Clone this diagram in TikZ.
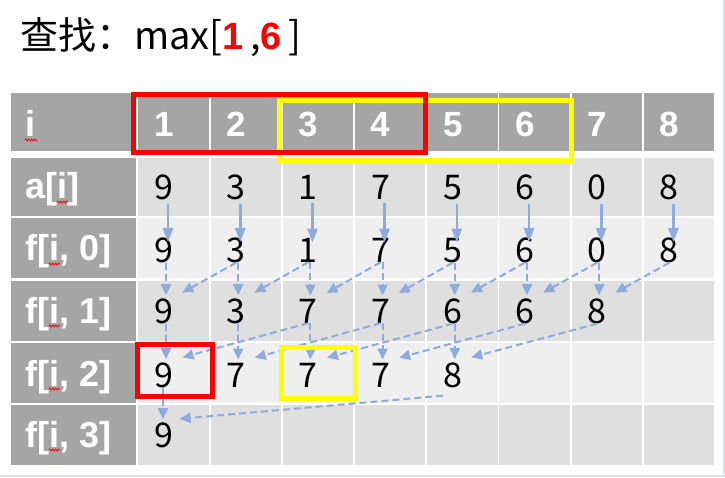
\documentclass[tikz,border=0pt]{standalone}
\usepackage{fontspec}
\setmainfont{Liberation Sans}
\newfontfamily\cjkfont{Noto Sans CJK SC}
\usepackage{xcolor}
\usepackage{tikz}
\usetikzlibrary{arrows.meta}
\usetikzlibrary{decorations.pathmorphing}
\usetikzlibrary{positioning}

\definecolor{hdr}{HTML}{A5A5A5}
\definecolor{rowA}{HTML}{DFDFDF}
\definecolor{rowB}{HTML}{EFEFEF}
\definecolor{arr}{HTML}{8FAADC}
\definecolor{frm}{HTML}{DEE3E8}
\definecolor{yel}{HTML}{FFFF00}

\begin{document}
\begin{tikzpicture}[x=1pt,y=-1pt]
	\tikzstyle{num}=[inner sep=0pt, anchor=base, font=\cjkfont\fontsize{34}{34}\selectfont]
	\tikzstyle{lbl}=[inner sep=0pt, anchor=base west, text=white, font=\bfseries\fontsize{36}{36}\selectfont]
	\tikzstyle{hd}=[inner sep=0pt, anchor=base, text=white, font=\bfseries\fontsize{35}{35}\selectfont]
	\tikzstyle{solidarr}=[-{Triangle[length=14pt,width=10pt]}, arr, line width=2.6pt, shorten <=3pt, shorten >=-5pt]
	\tikzstyle{dasharr}=[-{Triangle[length=11pt,width=10pt]}, arr, line width=2pt, dash pattern=on 7pt off 4pt, shorten >=3pt]
	\tikzstyle{hl}=[line width=5pt]
	\tikzstyle{squig}=[red, line width=.8pt, decorate, decoration={zigzag, segment length=3pt, amplitude=1pt}]

	\useasboundingbox (0,0) rectangle (725,478);
	\draw[frm, line width=2pt] (724,0) -- (724,476) -- (0,476);

	% title
	\node[anchor=base west, inner sep=0pt, font=\cjkfont\fontsize{38}{38}\selectfont] (title) at (20,50)
		{查找：max[\textcolor{red}{\normalfont\bfseries 1}\,,\textcolor{red}{\normalfont\bfseries 6}\,]};

	% cells
	\foreach \ytop/\ybot/\rowcol in {93/151/hdr, 157.7/215.7/rowA, 218.3/278/rowB, 280.7/340.7/rowA, 342.7/402.7/rowB, 405/465/rowA} {
		\fill[hdr] (11,\ytop) rectangle (136,\ybot);
		\foreach \k in {0,...,7}
			\fill[\rowcol] ({138.3+72.2*\k},\ytop) rectangle ({208.7+72.2*\k},\ybot);
	}

	% row labels
	\node[lbl] (li) at (25,137) {i};
	\node[lbl] (la) at (25,199) {a[i]};
	\node[lbl] (l0) at (25,261) {f[i, 0]};
	\node[lbl] (l1) at (25,323) {f[i, 1]};
	\node[lbl] (l2) at (25,386) {f[i, 2]};
	\node[lbl] (l3) at (25,447) {f[i, 3]};
	\draw[squig] (25,140) -- (37,140);
	\draw[squig] (57,202) -- (68,202);
	\draw[squig] (49,264) -- (60,264);
	\draw[squig] (49,326) -- (60,326);
	\draw[squig] (49,389) -- (60,389);
	\draw[squig] (49,450) -- (60,450);

	% header and values
	\foreach \i in {1,...,8}
		\node[hd] (h\i) at ({164+72.2*(\i-1)},137) {\i};
	\foreach \v [count=\i] in {9,3,1,7,5,6,0,8} {
		\node[num] (a\i) at ({164+72.2*(\i-1)},200) {\v};
		\node[num] (f0-\i) at ({164+72.2*(\i-1)},262) {\v};
	}
	\foreach \v [count=\i] in {9,3,7,7,6,6,8}
		\node[num] (f1-\i) at ({164+72.2*(\i-1)},323) {\v};
	\foreach \v [count=\i] in {9,7,7,7,8}
		\node[num] (f2-\i) at ({164+72.2*(\i-1)},387) {\v};
	\node[num] (f3-1) at (164,447) {9};

	% arrows
	\foreach \i in {1,...,8}
		\draw[solidarr] ([xshift=4pt]a\i.south) -- ([xshift=4pt]f0-\i.north);
	\foreach \i [evaluate=\i as \j using int(\i+1)] in {1,...,7} {
		\draw[dasharr] ([xshift=2pt]f0-\i.south) -- ([xshift=2pt]f1-\i.north);
		\draw[dasharr] (f0-\j.south) -- ([shift={(6pt,4pt)}]f1-\i.north east);
	}
	\foreach \i [evaluate=\i as \j using int(\i+2)] in {1,...,5} {
		\draw[dasharr] ([xshift=2pt]f1-\i.south) -- ([xshift=2pt]f2-\i.north);
		\draw[dasharr] (f1-\j.south) -- ([shift={(6pt,4pt)}]f2-\i.north east);
	}
	\draw[dasharr] ([xshift=-1pt]f2-1.south) -- ([xshift=-1pt]f3-1.north);
	\draw[dasharr] ([yshift=-8pt]f2-5.south west) -- ([shift={(3pt,3pt)}]f3-1.north east);

	% highlight boxes
	\draw[yel, hl] (279,101) rectangle (571,161);
	\draw[red, hl] (133,95) rectangle (425,153);
	\draw[red, hl] (137,344) rectangle (212,396);
	\draw[yel, hl] (281,347) rectangle (355,398);
\end{tikzpicture}
\end{document}
